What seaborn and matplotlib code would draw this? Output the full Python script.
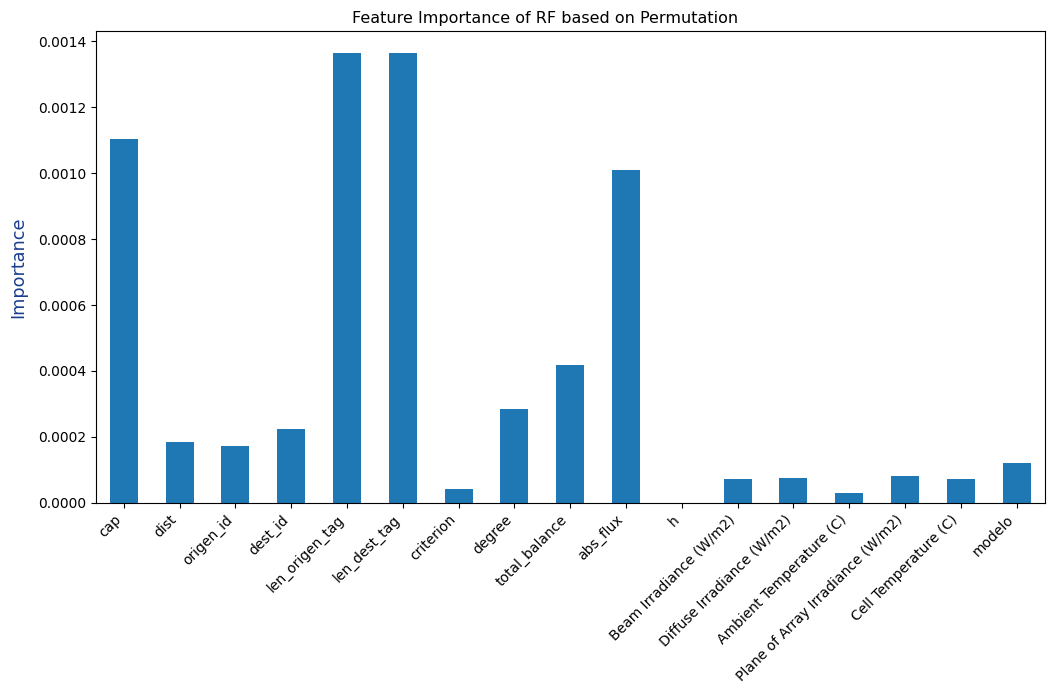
import pandas as pd
import numpy as np
import matplotlib.pyplot as plt
import seaborn as sns

features = ['cap', 'dist', 'origen_id', 'dest_id', 'len_origen_tag', 'len_dest_tag',
            'criterion', 'degree', 'total_balance', 'abs_flux', 'h',
            'Beam Irradiance (W/m2)', 'Diffuse Irradiance (W/m2)', 'Ambient Temperature (C)',
            'Plane of Array Irradiance (W/m2)', 'Cell Temperature (C)', 'modelo']
importance = [0.001102, 0.000185, 0.000174, 0.000225, 0.001363, 0.001363,
              0.0000435, 0.000285, 0.000419, 0.001008, 0.0,
              0.0000738, 0.0000769, 0.0000313, 0.000081, 0.000072, 0.000121]

df = pd.DataFrame({'Feature': features, 'Importance': importance})

fig, ax = plt.subplots(figsize=(10.54, 6.87), dpi=100)
sns.barplot(data=df, x='Feature', y='Importance', color='#1f77b4', saturation=1,
            width=0.5, ax=ax)
# title sits a bit left of the axes centre in the original
ax.set_title('Feature Importance of RF based on Permutation', fontsize=11.5, x=0.474)
ax.set_xlabel('')
ax.set_ylabel('Importance', color='#1b3d8f', fontsize=12.7, labelpad=8)
ax.set_xlim(-0.5, len(features) - 0.5)
plt.setp(ax.get_xticklabels(), rotation=45, ha='right')
fig.subplots_adjust(left=0.091, right=0.991, top=0.955, bottom=0.268)
plt.savefig('out.png')
